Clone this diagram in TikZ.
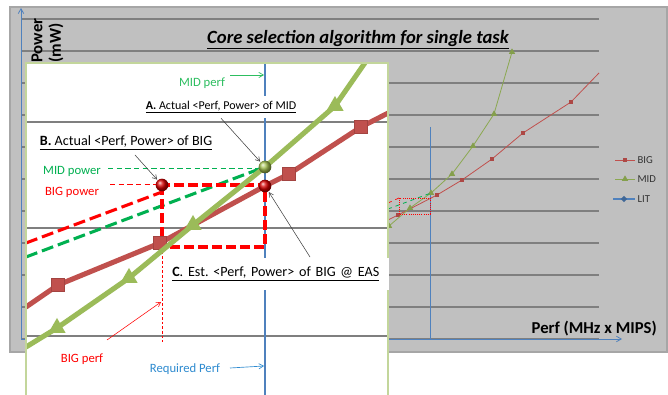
\documentclass[tikz,border=0pt]{standalone}
\usepackage{fontspec}
\setmainfont{Carlito}
\usetikzlibrary{arrows,shapes.geometric}
\definecolor{bigred}{HTML}{C0504D}
\definecolor{midgreen}{HTML}{9BBB59}
\definecolor{litblue}{HTML}{4F81BD}
\definecolor{chartgray}{HTML}{C0C0C0}
\definecolor{gridgray}{HTML}{7F7F7F}
\definecolor{insetgreen}{HTML}{C3D69B}
\definecolor{pwrgreen}{HTML}{00B050}
\definecolor{perfgreen}{HTML}{2DBE60}
\definecolor{reqblue}{HTML}{2E8BD0}
\frenchspacing

\begin{document}
\begin{tikzpicture}[x=0.75pt,y=-0.75pt,>=angle 60,
  bigsq/.style={rectangle,fill=bigred,draw=bigred!85!black,minimum size=9.75pt,inner sep=0pt},
  midtri/.style={regular polygon,regular polygon sides=3,fill=midgreen,minimum size=15pt,inner sep=0pt},
  smallsq/.style={rectangle,fill=bigred!90!black,minimum size=3.6pt,inner sep=0pt},
  smalltri/.style={regular polygon,regular polygon sides=3,fill=midgreen!85!black,minimum size=5.5pt,inner sep=0pt},
  pball/.style={circle,shading=ball,ball color=#1,minimum size=9.5pt,inner sep=0pt},
  lab/.style={font=\fontsize{9.5}{11}\selectfont,inner sep=1pt},
  note/.style={font=\fontsize{10.6}{13}\selectfont,inner sep=1pt},
  ylabel/.style={font=\bfseries\fontsize{12.5}{14}\selectfont,rotate=90,anchor=west,inner sep=0pt},
  legend/.style={font=\fontsize{8}{9}\selectfont,text=black!80,anchor=west,inner sep=1pt},
  labarrow/.style={->,draw=black!75,line width=0.4pt,shorten >=0.5pt},
  bigline/.style={bigred,line width=3.8pt,line join=round},
  midline/.style={midgreen,line width=3.8pt,line join=round}]
  \useasboundingbox (0,0) rectangle (668,395);

  % chart behind the inset
  \draw[draw=black!35,fill=chartgray,line width=1.2pt] (10,7) rectangle (667,352);
  \foreach \y in {19,51,...,307}
    \draw[gridgray,line width=0.8pt] (21,\y) -- (599,\y);
  \coordinate (orig) at (21,339);
  \coordinate (xtip) at (622,339);
  \coordinate (ytip) at (21,8);
  \draw[gridgray,line width=0.8pt] (orig) -- (599,339);
  \draw[litblue,line width=0.6pt,->] (orig) -- (xtip);
  \draw[litblue,line width=0.6pt,->] (orig) -- (ytip);

  \node[font=\bfseries\itshape\fontsize{14}{16}\selectfont] (title) at (358,40)
    {\underline{Core selection algorithm for single task}};
  \node[ylabel] (ypow) at (37,63) {Power};
  \node[ylabel] (ymw) at (56,63) {(mW)};
  \node[font=\bfseries\fontsize{12.5}{14}\selectfont,anchor=east,inner sep=0pt] (xlab) at (657,329)
    {Perf (MHz x MIPS)};

  \coordinate (chreq) at (430,127);
  \coordinate (chreqbase) at (430,339);
  \draw[litblue,line width=0.7pt] (chreq) -- (chreqbase);

  \path (388,220) coordinate (cb0) (398,215) coordinate (cb1) (437,195) coordinate (cb2)
        (462,180) coordinate (cb3) (492,159) coordinate (cb4) (523,133) coordinate (cb5)
        (571,102) coordinate (cb6) (599,73) coordinate (cb7);
  \draw[bigred,line width=0.6pt] (cb0) -- (cb1) -- (cb2) -- (cb3) -- (cb4) -- (cb5) -- (cb6) -- (cb7);
  \foreach \i in {1,...,6}
    \node[smallsq] at (cb\i) {};

  \path (389,226) coordinate (cm0) (410,208) coordinate (cm1) (431,193) coordinate (cm2)
        (452,174) coordinate (cm3) (473,146) coordinate (cm4) (494,114) coordinate (cm5)
        (512,52) coordinate (cm6);
  \draw[midgreen!90!black,line width=0.6pt] (cm0) -- (cm1) -- (cm2) -- (cm3) -- (cm4) -- (cm5) -- (cm6);
  \foreach \i in {0,...,6}
    \node[smalltri] at (cm\i) {};

  \coordinate (chrect) at (399,198);
  \draw[red,dashed,line width=0.5pt] (388,203) -- (chrect);
  \draw[pwrgreen,dashed,line width=0.6pt] (388,209) -- (cm2);
  \draw[red,densely dotted,line width=0.6pt] (chrect) rectangle (430,214);

  % legend
  \path (615,160) coordinate (lgB0) (635,160) coordinate (lgB1)
        (615,179) coordinate (lgM0) (635,179) coordinate (lgM1)
        (613,199) coordinate (lgL0) (635,199) coordinate (lgL1);
  \draw[bigred,line width=0.6pt] (lgB0) -- (lgB1);
  \node[smallsq] at (625,160) {};
  \node[legend] (lgbig) at (636,160) {BIG};
  \draw[midgreen!90!black,line width=0.6pt] (lgM0) -- (lgM1);
  \node[smalltri] at (625,179) {};
  \node[legend] (lgmid) at (636,179) {MID};
  \draw[litblue,line width=1.8pt] (lgL0) -- (lgL1);
  \node[diamond,fill=litblue!80!black,minimum size=5pt,inner sep=0pt] at (624,199) {};
  \node[legend] (lglit) at (636,199) {LIT};

  % zoomed inset
  \begin{scope}
    \clip (26,63) rectangle (388,396);
    \fill[white] (26,63) rectangle (388,396);
    \foreach \y in {122,228,336}
      \draw[gridgray,line width=1.6pt] (26,\y) -- (388,\y);
    \coordinate (reqtop) at (265,63);
    \coordinate (reqbot) at (265,396);
    \draw[litblue,line width=1.6pt] (reqtop) -- (reqbot);

    \draw[pwrgreen,dash pattern=on 4pt off 2.5pt,line width=0.6pt] (108,168) -- (260,168);
    \draw[red,dash pattern=on 4pt off 2.5pt,line width=0.6pt] (110,184) -- (157,184);
    \draw[red,dash pattern=on 2pt off 1.5pt,line width=0.5pt] (162,247) -- (162,342);

    \draw[red,dash pattern=on 9pt off 3.75pt,line width=2.3pt] (26,243) -- (162,192);
    \draw[pwrgreen,dash pattern=on 9pt off 3.75pt,line width=2.3pt] (26,257) -- (262,168);
    \draw[red,dash pattern=on 7.5pt off 3pt,line width=2.6pt] (162,185) rectangle (265,247);

    \path (26,307) coordinate (b0) (58,285) coordinate (b1) (160,243) coordinate (b2)
          (265,186) coordinate (b3) (289,174) coordinate (b4) (361,127) coordinate (b5)
          (394,110) coordinate (b6);
    \draw[bigline] (b0) -- (b1) -- (b2) -- (b3) -- (b4) -- (b5) -- (b6);
    \foreach \c in {b1,b2,b4,b5}
      \node[bigsq] at (\c) {};

    \path (26,347) coordinate (m0) (57,328) coordinate (m1) (129,278) coordinate (m2)
          (193,225) coordinate (m3) (265,167) coordinate (m4) (335,106) coordinate (m5)
          (369,57) coordinate (m6);
    \draw[midline] (m0) -- (m1) -- (m2) -- (m3) -- (m4) -- (m5) -- (m6);
    \foreach \c in {m1,m2,m3,m5}
      \node[midtri] at (\c) {};

    \node[pball=midgreen!90!yellow] (gball) at (m4) {};
    \node[pball=red!85!black] (rball1) at (162,185) {};
    \node[pball=red!85!black] (rball2) at (b3) {};
  \end{scope}
  \draw[insetgreen,line width=1pt] (26,396) -- (26,63) -- (388,63) -- (388,396);

  \node[lab,text=perfgreen] (labMidPerf) at (202,83) {MID perf};
  \node[lab,fill=white,minimum height=16.5pt,font=\fontsize{9}{11}\selectfont] (labA) at (221,107)
    {\underline{\textbf{A.} Actual <Perf, Power> of MID}};
  \node[note] (labB) at (126,143) {\underline{\textbf{B.} Actual <Perf, Power> of BIG}};
  \node[lab,text=pwrgreen] (labMidPow) at (72,171) {MID power};
  \node[lab,text=red] (labBigPow) at (72,192) {BIG power};
  \node[note,fill=white,anchor=west,align=left,text width=160pt,minimum height=24pt,inner xsep=2.25pt]
    (labC) at (169,274) {\underline{\textbf{C}. Est. <Perf, Power> of BIG @ EAS}};
  \node[lab,text=red] (labBigPerf) at (82,359) {BIG perf};
  \node[lab,text=reqblue] (labReq) at (185,369) {Required Perf};

  \coordinate (mpTail) at (230,75);
  \coordinate (mpTip) at (264,75);
  \coordinate (rqTail) at (230,368);
  \coordinate (rqTip) at (264,366);
  \coordinate (bpTail) at (107,340);
  \coordinate (bpTip) at (161,302);
  \coordinate (bTail) at (135,155);
  \coordinate (cTail) at (310,257);
  \draw[perfgreen,->,line width=0.5pt] (mpTail) -- (mpTip);
  \draw[reqblue,->,line width=0.5pt] (rqTail) -- (rqTip);
  \draw[red,->,line width=0.4pt] (bpTail) -- (bpTip);
  \draw[labarrow] (labA.south) -- (gball);
  \draw[labarrow] (bTail) -- (rball1);
  \draw[labarrow] (cTail) -- (rball2);
\end{tikzpicture}
\end{document}
